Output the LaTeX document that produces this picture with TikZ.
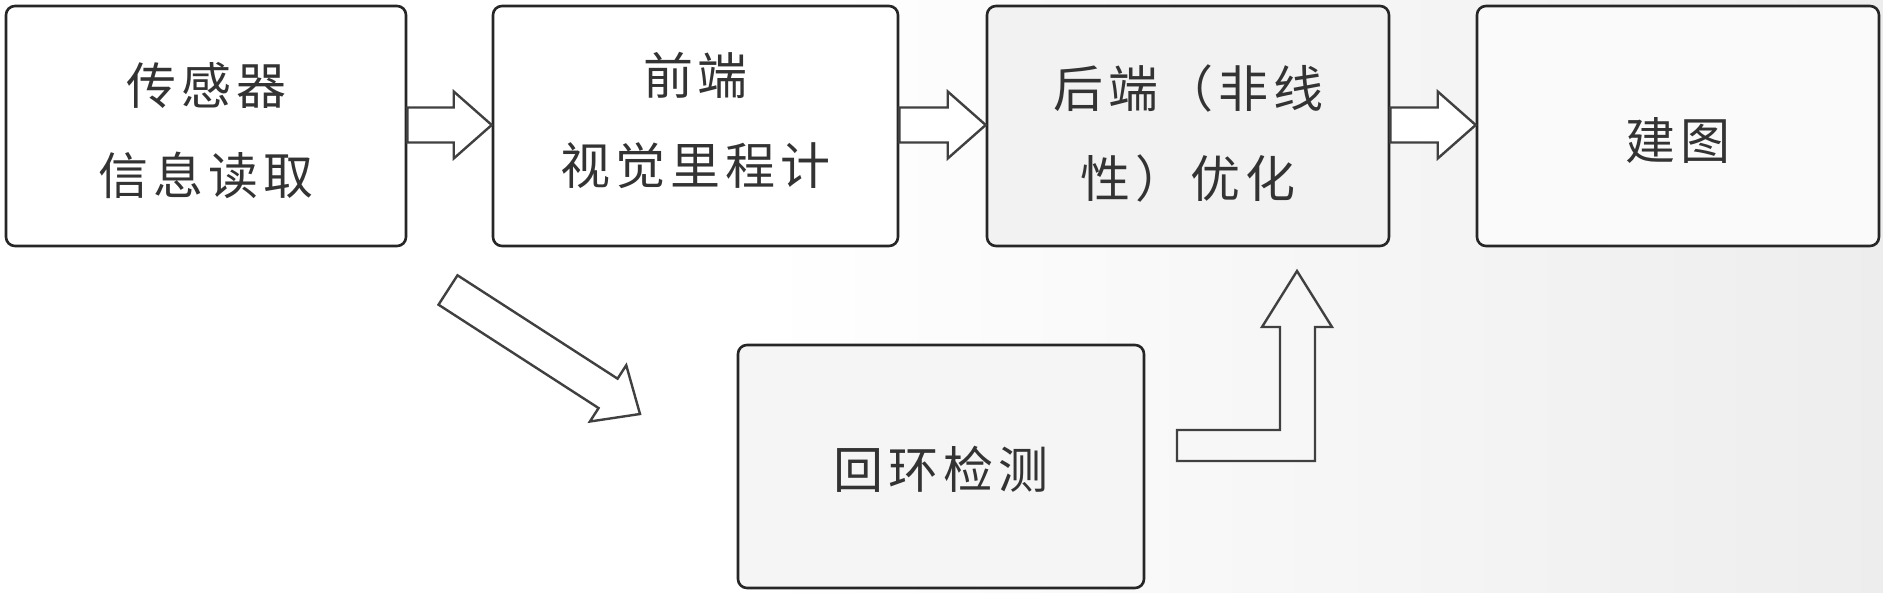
\documentclass[tikz,border=0pt]{standalone}
\usepackage{fontspec}
\newfontfamily\cjk[LetterSpace=10]{Noto Sans CJK SC}
\usetikzlibrary{calc}
\tikzset{
  box/.style={draw=black!85, line width=2.6pt, rounded corners=9pt, rectangle, inner sep=0pt, fill=white},
  lbl/.style={font={\cjk\fontsize{50}{90}\selectfont}, text=black!80, align=center, inner sep=0pt},
  blockarr/.style={draw=black!75, line width=2.4pt, line join=miter},
}
\newcommand\blkarrow[3][white]{%
  \draw[blockarr,fill=#1] let \p1=(#2), \p2=(#3),
      \n1={atan2(\y2-\y1,\x2-\x1)}, \n2={veclen(\x2-\x1,\y2-\y1)} in
    ($(\p1)+(\n1+90:17.5pt)$) --
    ($(\p1)+(\n1:\n2-38pt)+(\n1+90:17.5pt)$) --
    ($(\p1)+(\n1:\n2-38pt)+(\n1+90:33.5pt)$) --
    (\p2) --
    ($(\p1)+(\n1:\n2-38pt)+(\n1-90:33.5pt)$) --
    ($(\p1)+(\n1:\n2-38pt)+(\n1-90:17.5pt)$) --
    ($(\p1)+(\n1-90:17.5pt)$) -- cycle;}
\begin{document}
\begin{tikzpicture}[x=1pt,y=-1pt]
  \useasboundingbox (0,0) rectangle (1883,593);
  \fill[white] (0,0) rectangle (1883,593);
  \shade[left color=white, right color=black!7] (760,0) rectangle (1883,593);

  % boxes
  \node[box, minimum width=400pt, minimum height=240pt] (b1) at (206,126) {};
  \node[box, minimum width=405pt, minimum height=240pt] (b2) at (695.5,126) {};
  \node[box, fill=black!5, minimum width=402pt, minimum height=240pt] (b3) at (1188,126) {};
  \node[box, fill=black!2, minimum width=402pt, minimum height=240pt] (b4) at (1678,126) {};
  \node[box, fill=black!4, minimum width=406pt, minimum height=243pt] (b5) at (941,466.5) {};

  % labels
  \node[lbl] (t1) at ([yshift=-5pt]b1.center) {传感器\\信息读取};
  \node[lbl] (t2) at ([yshift=6pt]b2.center) {前端\\视觉里程计};
  \node[lbl] (t3) at ([yshift=-8pt]b3.center) {后端（非线\\性）优化};
  \node[lbl] (t4) at ([yshift=-15pt]b4.center) {建图};
  \node[lbl] (t5) at ([yshift=-3pt]b5.center) {回环检测};

  % horizontal block arrows
  \blkarrow{$(b1.east)+(0,-1)$}{$(b2.west)+(0,-1)$}
  \blkarrow{$(b2.east)+(0,-1)$}{$(b3.west)+(0,-1)$}
  \blkarrow{$(b3.east)+(0,-1)$}{$(b4.west)+(0,-1)$}

  % diagonal block arrow
  \coordinate (dtail) at (448,290);
  \coordinate (dtip) at (640,414);
  \blkarrow{dtail}{dtip}

  % L-shaped block arrow to the back end
  \coordinate (ltip) at (1297,271);
  \draw[blockarr, fill=black!3]
    (1177,430) -- (1280,430) -- (1280,327) -- (1262,327) -- (ltip)
    -- (1332,327) -- (1315,327) -- (1315,461) -- (1177,461) -- cycle;
\end{tikzpicture}
\end{document}
